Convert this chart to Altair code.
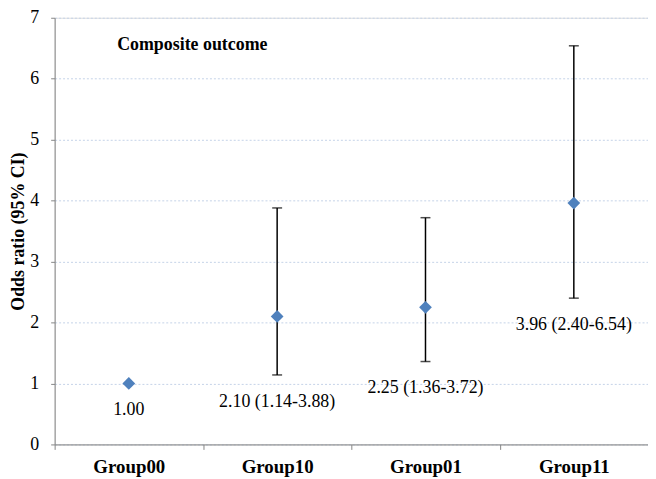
import altair as alt
import pandas as pd

groups = ["Group00", "Group10", "Group01", "Group11"]
odds = [1.00, 2.10, 2.25, 3.96]
lower = [None, 1.14, 1.36, 2.40]
upper = [None, 3.88, 3.72, 6.54]
labels = ["1.00", "2.10 (1.14-3.88)", "2.25 (1.36-3.72)", "3.96 (2.40-6.54)"]

df = pd.DataFrame({"group": groups, "or": odds, "lo": lower, "hi": upper, "label": labels})
df["label_y"] = [o if pd.isna(l) else l for l, o in zip(df["lo"], df["or"])]
ci = df.dropna(subset=["lo", "hi"])

FONT = "Liberation Serif"

xenc = alt.X("group:N", sort=groups, title=None,
             scale=alt.Scale(paddingInner=0, paddingOuter=0),
             axis=alt.Axis(tickBand="extent", labelAngle=0, labelFont=FONT, labelFontSize=19,
                           labelFontWeight="bold", labelColor="black", labelPadding=8,
                           domainColor="#868686", tickColor="#868686", tickSize=5, grid=False))
yscale = alt.Scale(domain=[0, 7], nice=False)
yaxis = alt.Axis(title="Odds ratio (95% CI)", titleFont=FONT, titleFontSize=18, titleFontWeight="bold",
                 titleColor="black", titlePadding=2, values=[0, 1, 2, 3, 4, 5, 6, 7], format="d",
                 labelFont=FONT, labelFontSize=18, labelColor="black", labelPadding=12,
                 domainColor="#868686", tickColor="#868686", tickSize=4,
                 grid=True, gridColor="#C5D3E8", gridDash=[2, 2], gridWidth=1)

base = alt.Chart(df)

rules = alt.Chart(ci).mark_rule(color="black", strokeWidth=1.5).encode(
    x=xenc, y=alt.Y("lo:Q", scale=yscale, axis=yaxis), y2="hi:Q")
cap_lo = alt.Chart(ci).mark_tick(color="black", size=10, thickness=1.5, orient="horizontal").encode(
    x=alt.X("group:N", sort=groups), y=alt.Y("lo:Q", scale=yscale))
cap_hi = alt.Chart(ci).mark_tick(color="black", size=10, thickness=1.5, orient="horizontal").encode(
    x=alt.X("group:N", sort=groups), y=alt.Y("hi:Q", scale=yscale))
points = base.mark_point(shape="diamond", filled=True, size=165, color="#4F81BD", opacity=1).encode(
    x=alt.X("group:N", sort=groups), y=alt.Y("or:Q", scale=yscale))
texts = base.mark_text(font=FONT, fontSize=18, color="black", dy=27, baseline="middle").encode(
    x=alt.X("group:N", sort=groups), y=alt.Y("label_y:Q", scale=yscale), text="label:N")
title = alt.Chart(pd.DataFrame({"t": ["Composite outcome"]})).mark_text(
    font=FONT, fontSize=18, fontWeight="bold", color="black", align="left", baseline="middle").encode(
    x=alt.value(63), y=alt.value(27), text="t:N")

chart = alt.layer(rules, cap_lo, cap_hi, points, texts, title).properties(
    width=598, height=430,
    autosize=alt.AutoSizeParams(type="none"),
    padding={"left": 47, "top": 8, "right": 0, "bottom": 33},
).configure_view(stroke=None).configure(background="white")

chart.save("out.html", embed_options={"renderer": "svg", "actions": False})
